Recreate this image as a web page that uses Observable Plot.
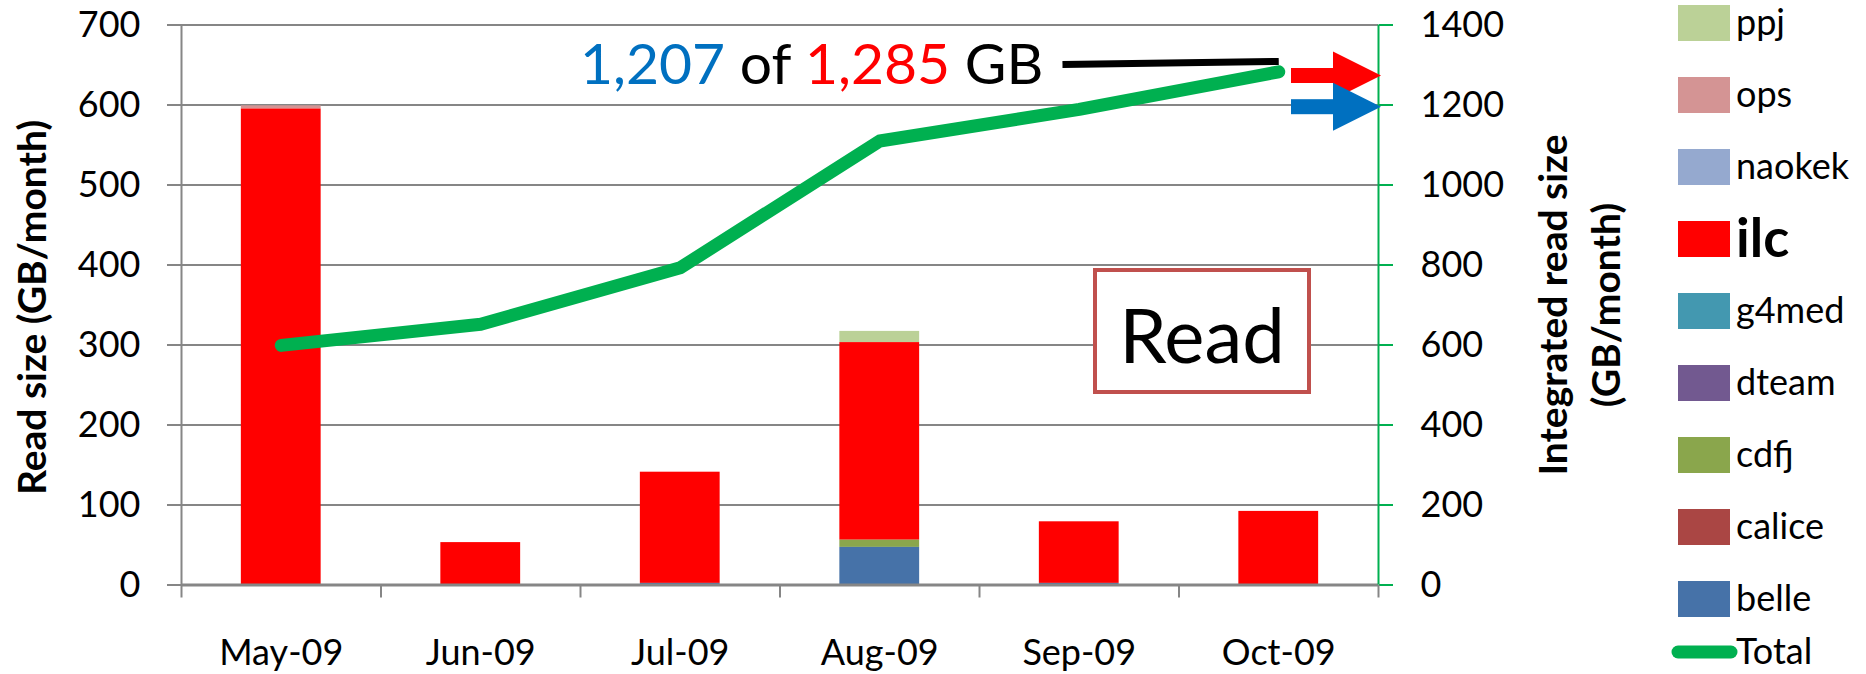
<!DOCTYPE html>
<html>
<head>
<meta charset="utf-8">
<script src="https://cdn.jsdelivr.net/npm/d3@7"></script>
<script src="https://cdn.jsdelivr.net/npm/@observablehq/plot@0.6"></script>
<style>
  html, body { margin: 0; padding: 0; background: #ffffff; }
  #chart { position: relative; width: 1866px; height: 674px; overflow: hidden; }
  #chart svg { display: block; }
</style>
</head>
<body>
<div id="chart"></div>
<script>
// ---------------- DATA ----------------
const months = ["May-09", "Jun-09", "Jul-09", "Aug-09", "Sep-09", "Oct-09"];

// legend order (top to bottom)
const seriesNames = ["ppj", "ops", "naokek", "ilc", "g4med", "dteam", "cdfj", "calice", "belle"];
const seriesColors = ["#BBD197", "#D49494", "#95A9CF", "#FF0000", "#4398B0", "#725990", "#8AA64C", "#AA4644", "#4672A8"];

// read size per month (GB/month)
const ppj    = [0, 0, 0, 14, 0, 0];
const ops    = [4, 0, 0, 0, 0, 0];
const naokek = [0, 0, 0, 0, 0, 0];
const ilc    = [595, 53, 139, 247, 77, 92];
const g4med  = [0, 0, 0, 0, 0, 0];
const dteam  = [0, 0, 0, 0, 0, 0];
const cdfj   = [0, 0, 0, 9, 0, 0];
const calice = [0, 0, 0, 0, 0, 0];
const belle  = [0, 0, 2, 47, 2, 0];

// integrated read size (GB) – right axis
const integrated = [599, 652, 793, 1110, 1189, 1283];

const readOfIlc = 1207;
const readTotal = 1285;

const leftTicks = [0, 100, 200, 300, 400, 500, 600, 700];
const rightTicks = [0, 200, 400, 600, 800, 1000, 1200, 1400];

// --------------- TABLES ---------------
const seriesValues = {ppj, ops, naokek, ilc, g4med, dteam, cdfj, calice, belle};
const rows = seriesNames.flatMap(s =>
  seriesValues[s].map((v, i) => ({i, month: months[i], series: s, value: v}))
);
const stackOrder = seriesNames.slice().reverse(); // belle at the bottom
const lineRows = integrated.map((v, i) => ({i, month: months[i], value: v}));
const rightScale = 2; // right axis = 2 x left axis

const GRID = "#868686";
const GREEN = "#00B050";
const FONT = "Lato, 'Open Sans', sans-serif";

const chart = Plot.plot({
  width: 1866,
  height: 674,
  marginLeft: 181,
  marginRight: 488,
  marginTop: 24.5,
  marginBottom: 89.5,
  x: {type: "linear", domain: [-0.5, months.length - 0.5]},
  y: {domain: [0, 700]},
  color: {domain: seriesNames, range: seriesColors},
  style: {fontFamily: FONT, fontSize: "36px", color: "#000", background: "#fff", overflow: "visible"},
  marks: [
    Plot.gridY(leftTicks, {stroke: GRID, strokeOpacity: 1, strokeWidth: 2}),
    Plot.axisY({anchor: "left", ticks: leftTicks, tickSize: 14, tickPadding: 27,
      stroke: GRID, strokeWidth: 2, fill: "#000", label: null, fontSize: 36}),
    Plot.axisY({anchor: "right", ticks: rightTicks.map(t => t / rightScale), tickSize: 14, tickPadding: 28,
      tickFormat: d => String(d * rightScale),
      stroke: GREEN, strokeWidth: 2, fill: "#000", label: null, fontSize: 36}),
    Plot.axisX({ticks: d3.range(-0.5, months.length, 1), tickSize: 13, tickFormat: () => "",
      stroke: GRID, strokeWidth: 2, label: null}),
    Plot.axisX({ticks: d3.range(0, months.length), tickSize: 0, tickPadding: 54,
      tickFormat: i => months[i], fill: "#000", label: null, fontSize: 36}),
    Plot.ruleX([-0.5], {y1: 0, y2: 700, stroke: GRID, strokeWidth: 2}),
    Plot.rectY(rows, {
      x1: d => d.i - 0.2, x2: d => d.i + 0.2, y: "value",
      fill: "series", order: stackOrder
    }),
    Plot.ruleY([0], {stroke: GRID, strokeWidth: 3}),
    Plot.ruleX([months.length - 0.5], {y1: 0, y2: 700, stroke: GREEN, strokeWidth: 2}),
    // leader line from the annotation to the last point
    Plot.link([{x1: 3.916, y1: 1301, x2: 5, y2: 1309}], {
      x1: "x1", x2: "x2", y1: d => d.y1 / rightScale, y2: d => d.y2 / rightScale,
      stroke: "#000", strokeWidth: 7
    }),
    Plot.line(lineRows, {
      x: "i", y: d => d.value / rightScale,
      stroke: GREEN, strokeWidth: 13, strokeLinecap: "round", strokeLinejoin: "round"
    }),
    Plot.text(["Read size (GB/month)"], {
      frameAnchor: "left", textAnchor: "middle", text: d => d, rotate: -90, dx: -147.5, dy: 2.5,
      fontWeight: "bold", fontSize: 39, fill: "#000"
    }),
    Plot.text(["Integrated read size"], {
      frameAnchor: "right", textAnchor: "middle", text: d => d, rotate: -90, dx: 176.5, dy: 0,
      fontWeight: "bold", fontSize: 39, fill: "#000"
    }),
    Plot.text(["(GB/month)"], {
      frameAnchor: "right", textAnchor: "middle", text: d => d, rotate: -90, dx: 229.5, dy: 0,
      fontWeight: "bold", fontSize: 39, fill: "#000"
    })
  ]
});

document.getElementById("chart").appendChild(chart);

// --------------- ANNOTATIONS & LEGEND (overlay, positioned with Plot's scales) ---------------
const xs = chart.scale("x"), ys = chart.scale("y");
const svg = d3.select(chart);
const ann = svg.append("g").attr("font-family", FONT).attr("text-anchor", "start");

// "1,207 of 1,285 GB"
const fmt = d3.format(",");
const t = ann.append("text").attr("x", 580).attr("y", 84).attr("font-size", 57).attr("text-anchor", "start");
t.append("tspan").attr("fill", "#0070C0").text(fmt(readOfIlc));
t.append("tspan").attr("fill", "#000").text(" of ");
t.append("tspan").attr("fill", "#FF0000").text(fmt(readTotal));
t.append("tspan").attr("fill", "#000").text(" GB");

// arrows pointing to the right axis
function arrow(value, color) {
  const tx = xs.apply(months.length - 0.5) + 3;
  const ty = ys.apply(value / rightScale) + 5;
  ann.append("rect").attr("x", tx - 90).attr("y", ty - 7.5).attr("width", 44).attr("height", 15).attr("fill", color);
  ann.append("path").attr("d", `M${tx - 48},${ty - 24}L${tx},${ty}L${tx - 48},${ty + 24}Z`).attr("fill", color);
}
arrow(readTotal, "#FF0000");
arrow(readOfIlc, "#0070C0");

// "Read" box
ann.append("rect").attr("x", 1095).attr("y", 270).attr("width", 214).attr("height", 122)
  .attr("fill", "#fff").attr("stroke", "#C0504D").attr("stroke-width", 4);
ann.append("text").attr("x", 1202).attr("y", 363).attr("text-anchor", "middle")
  .attr("font-size", 76).attr("fill", "#000").text("Read");

// legend
const leg = svg.append("g").attr("font-family", FONT).attr("text-anchor", "start");
seriesNames.forEach((name, k) => {
  const cy = 23 + 72 * k;
  leg.append("rect").attr("x", 1678).attr("y", cy - 18).attr("width", 52).attr("height", 36)
    .attr("fill", seriesColors[k]);
  const big = name === "ilc";
  leg.append("text").attr("x", 1736).attr("y", cy + (big ? 18 : 12)).attr("text-anchor", "start")
    .attr("font-size", big ? 54 : 36).attr("font-weight", big ? "bold" : "normal")
    .attr("fill", "#000").text(name);
});
const totalY = 652;
leg.append("line").attr("x1", 1678).attr("x2", 1731).attr("y1", totalY).attr("y2", totalY)
  .attr("stroke", GREEN).attr("stroke-width", 13).attr("stroke-linecap", "round");
leg.append("text").attr("x", 1736).attr("y", totalY + 12).attr("text-anchor", "start")
  .attr("font-size", 36).attr("fill", "#000").text("Total");
</script>
</body>
</html>
